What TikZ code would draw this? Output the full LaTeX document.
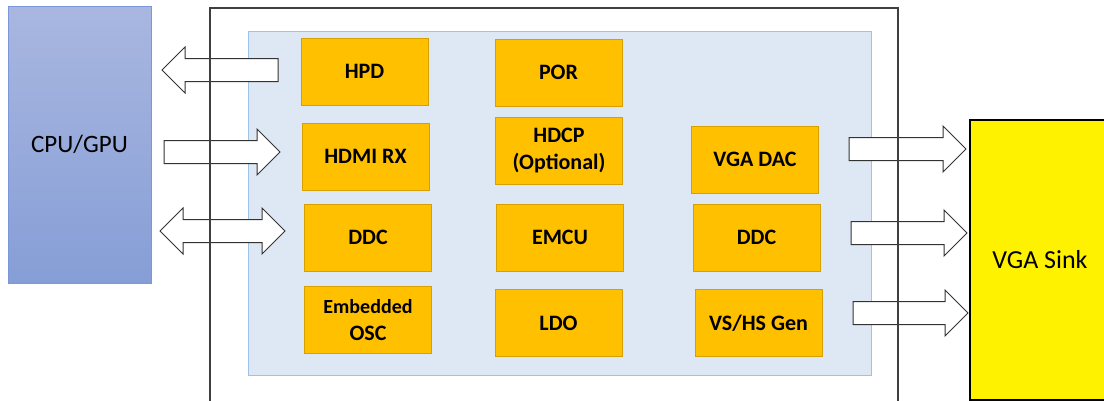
\documentclass[tikz,border=0pt]{standalone}
\usepackage{fontspec}
\setmainfont{Carlito}
\usepackage{tikz}
\usetikzlibrary{positioning}
\definecolor{hostTop}{HTML}{A9B7E0}
\definecolor{hostBot}{HTML}{869ED6}
\definecolor{hostEdge}{HTML}{7B96DA}
\definecolor{panelFill}{HTML}{DEE8F4}
\definecolor{panelEdge}{HTML}{9DC3E6}
\definecolor{blkFill}{HTML}{FFC000}
\definecolor{blkEdge}{HTML}{D6A000}
\definecolor{frameLine}{HTML}{3F3F3F}
\tikzset{
  blk/.style={draw=blkEdge, line width=1pt, fill=blkFill, minimum width=127pt,
    minimum height=67pt, inner sep=1pt, align=center,
    font=\bfseries\fontsize{22}{27}\selectfont},
  fat/.style={draw=black!80, line width=1pt, fill=white, line join=miter},
}
\newcommand{\blockat}[3]{\node[blk] (#1) at #2 {#3};}
\newcommand{\fatright}[3]{\draw[fat] (#1,#3-11.5) -- (#2-23,#3-11.5) -- (#2-23,#3-23) -- (#2,#3)
  -- (#2-23,#3+23) -- (#2-23,#3+11.5) -- (#1,#3+11.5) -- cycle;}
\newcommand{\fatleft}[3]{\draw[fat] (#1,#3-11.5) -- (#2+23,#3-11.5) -- (#2+23,#3-23) -- (#2,#3)
  -- (#2+23,#3+23) -- (#2+23,#3+11.5) -- (#1,#3+11.5) -- cycle;}
\newcommand{\fatboth}[3]{\draw[fat] (#1,#3) -- (#1+23,#3-23) -- (#1+23,#3-11.5) -- (#2-23,#3-11.5)
  -- (#2-23,#3-23) -- (#2,#3) -- (#2-23,#3+23) -- (#2-23,#3+11.5) -- (#1+23,#3+11.5)
  -- (#1+23,#3+23) -- cycle;}

\begin{document}
\begin{tikzpicture}[x=1pt, y=-1pt]
        \path[use as bounding box, clip] (0,0) rectangle (1104,400);
        % host and sink
        \node[draw=hostEdge, line width=0.8pt, top color=hostTop, bottom color=hostBot,
          minimum width=143pt, minimum height=277pt, font=\fontsize{25}{30}\selectfont]
          (host) at (79.5,144.5) {CPU/GPU};
        \node[draw=black, line width=1.5pt, fill=yellow, minimum width=140pt,
          minimum height=280pt, font=\fontsize{26}{30}\selectfont]
          (sink) at (1040,260) {VGA Sink};
        % chip
        \node[draw=panelEdge, line width=0.8pt, fill=panelFill, minimum width=623pt,
          minimum height=344pt] (panel) at (559.5,203) {};
        \blockat{hpd}{(364.5,71.5)}{HPD}
        \blockat{por}{(558.5,72.5)}{POR}
        \blockat{rx}{(365.5,156.5)}{HDMI RX}
        \blockat{hdcp}{(559,150.5)}{HDCP\\(Optional)}
        \blockat{ddcin}{(368,237.5)}{DDC}
        \blockat{emcu}{(560,237.5)}{EMCU}
        \blockat{osc}{(368,320)}{\fontsize{20}{24}\selectfont Embedded\\OSC}
        \blockat{ldo}{(558.5,323)}{LDO}
        \blockat{dac}{(755,159.5)}{VGA DAC}
        \blockat{ddcout}{(756.5,237.5)}{DDC}
        \blockat{sync}{(758.5,323)}{VS/HS Gen}
        % links
        \fatleft{278}{162}{70}
        \fatright{164}{280}{152}
        \fatboth{160}{285}{231}
        \fatright{849}{966}{149}
        \fatright{851}{967}{233}
        \fatright{853}{968}{313}
        % package outline
        \draw[frameLine, line width=1.5pt] (210,402) -- (210,8) -- (898,8) -- (898,402);
    \end{tikzpicture}
\end{document}
